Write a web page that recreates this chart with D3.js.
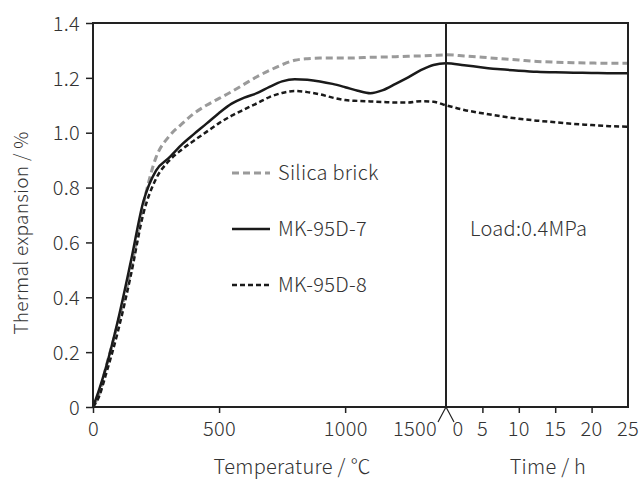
<!DOCTYPE html>
<html>
<head>
<meta charset="utf-8">
<script src="https://cdn.jsdelivr.net/npm/d3@7"></script>
<style>
  body { margin: 0; background: #fff; }
  text { font-family: "Noto Sans CJK JP", "Noto Sans", sans-serif; font-weight: 300; fill: #333; letter-spacing: 0.3px; }
</style>
</head>
<body>
<div id="chart"></div>
<script>
// heating stage (temperature, degC)
const tempC = [0, 25, 50, 100, 150, 200, 250, 300, 350, 400, 450, 500, 550, 600, 650, 700,
  750, 800, 850, 900, 950, 1000, 1050, 1100, 1150, 1200, 1250, 1300, 1350, 1400];
const silicaT = [0, 0.05, 0.14, 0.31, 0.50, 0.74, 0.91, 0.985, 1.03, 1.07, 1.10, 1.125, 1.15, 1.177, 1.204, 1.227,
  1.248, 1.264, 1.270, 1.272, 1.272, 1.272, 1.273, 1.275, 1.276, 1.277, 1.279, 1.280, 1.282, 1.284];
const mk7T = [0, 0.065, 0.14, 0.32, 0.53, 0.75, 0.862, 0.907, 0.955, 0.995, 1.033, 1.072, 1.106, 1.128, 1.144, 1.167,
  1.187, 1.195, 1.193, 1.187, 1.178, 1.166, 1.153, 1.144, 1.155, 1.178, 1.202, 1.228, 1.247, 1.253];
const mk8T = [0, 0.04, 0.115, 0.28, 0.48, 0.706, 0.832, 0.896, 0.937, 0.971, 1.003, 1.035, 1.062, 1.085, 1.107, 1.130,
  1.145, 1.152, 1.148, 1.140, 1.128, 1.119, 1.116, 1.114, 1.112, 1.110, 1.110, 1.115, 1.113, 1.100];

// holding stage under load (time, h)
const timeH = [0, 2.5, 5, 7.5, 10, 12.5, 15, 17.5, 20, 22.5, 25];
const silicaH = [1.285, 1.280, 1.275, 1.270, 1.265, 1.260, 1.257, 1.255, 1.254, 1.253, 1.253];
const mk7H = [1.253, 1.246, 1.238, 1.231, 1.226, 1.222, 1.220, 1.219, 1.218, 1.217, 1.217];
const mk8H = [1.098, 1.083, 1.071, 1.060, 1.051, 1.044, 1.038, 1.032, 1.028, 1.024, 1.022];

const yTicks = [0, 0.2, 0.4, 0.6, 0.8, 1.0, 1.2, 1.4];
const tempTicks = [0, 500, 1000];
const timeTicks = [5, 10, 15, 20];
const timeLabels = [0, 5, 10, 15, 20, 25];

const series = [
  { name: 'Silica brick', t: silicaT, h: silicaH, color: '#9a9a9a', dash: '7,4', width: 3 },
  { name: 'MK-95D-7', t: mk7T, h: mk7H, color: '#1a1a1a', dash: null, width: 2.5 },
  { name: 'MK-95D-8', t: mk8T, h: mk8H, color: '#1a1a1a', dash: '5,3', width: 2.5 }
];

const W = 641, H = 481;
const pLeft = 93, pRight = 628, pTop = 23, pBottom = 407, split = 446;

const svg = d3.select('#chart').append('svg')
  .attr('width', W).attr('height', H);

const y = d3.scaleLinear().domain([0, 1.4]).range([pBottom, pTop]);
const xT = d3.scaleLinear().domain([0, 1400]).range([pLeft, split]);
const xH = d3.scaleLinear().domain([0, 25]).range([split, pRight]);

// curves
const line = d3.line().x(d => d[0]).y(d => d[1]).curve(d3.curveMonotoneX);
series.forEach(s => {
  const pts = tempC.map((c, i) => [xT(c), y(s.t[i])])
    .concat(timeH.map((t, i) => [xH(t), y(s.h[i])]).slice(1));
  svg.append('path')
    .attr('d', line(pts))
    .attr('fill', 'none')
    .attr('stroke', s.color)
    .attr('stroke-width', s.width)
    .attr('stroke-dasharray', s.dash);
});

// frame
const ax = '#222';
svg.append('rect')
  .attr('x', pLeft).attr('y', pTop)
  .attr('width', pRight - pLeft).attr('height', pBottom - pTop)
  .attr('fill', 'none').attr('stroke', ax).attr('stroke-width', 2);
svg.append('line')
  .attr('x1', split).attr('x2', split).attr('y1', pTop).attr('y2', pBottom)
  .attr('stroke', ax).attr('stroke-width', 2);

// y axis
const yAxis = d3.axisLeft(y).tickValues(yTicks).tickSize(7)
  .tickFormat(d => d === 0 ? '0' : d3.format('.1f')(d));
const gy = svg.append('g').attr('transform', `translate(${pLeft},0)`).call(yAxis);
gy.select('.domain').remove();
gy.selectAll('line').attr('stroke', ax).attr('stroke-width', 1.5);
gy.selectAll('text').attr('font-size', 20).attr('x', -13).attr('dy', '0.36em');

// temperature axis
const xAxisT = d3.axisBottom(xT).tickValues(tempTicks).tickSize(6).tickFormat(d3.format('d'));
const gt = svg.append('g').attr('transform', `translate(0,${pBottom})`).call(xAxisT);
gt.select('.domain').remove();
gt.selectAll('line').attr('stroke', ax).attr('stroke-width', 1.5);
gt.selectAll('text').attr('font-size', 20).attr('y', 15).attr('dy', '0.71em');
gt.append('text').attr('x', xT(1400) - 31).attr('y', 15).attr('dy', '0.71em')
  .attr('text-anchor', 'middle').attr('font-size', 20).attr('fill', '#333').text('1500');

// time axis
const xAxisH = d3.axisBottom(xH).tickValues(timeTicks).tickSize(6).tickFormat('');
const gh = svg.append('g').attr('transform', `translate(0,${pBottom})`).call(xAxisH);
gh.select('.domain').remove();
gh.selectAll('line').attr('stroke', ax).attr('stroke-width', 1.5);
gh.selectAll('.lbl').data(timeLabels).enter().append('text')
  .attr('x', d => d === 0 ? xH(d) + 12 : xH(d)).attr('y', 15).attr('dy', '0.71em')
  .attr('text-anchor', 'middle').attr('font-size', 20).attr('fill', '#333')
  .text(d => d);

// break mark
svg.append('path')
  .attr('d', `M${split - 8},${pBottom + 15}L${split},${pBottom}L${split + 8},${pBottom + 15}`)
  .attr('fill', 'none').attr('stroke', ax).attr('stroke-width', 1.2);

// axis titles
svg.append('text').attr('x', xT(790)).attr('y', 474).attr('text-anchor', 'middle')
  .attr('font-size', 20).text('Temperature / ℃');
svg.append('text').attr('x', xH(14)).attr('y', 474).attr('text-anchor', 'middle')
  .attr('font-size', 20).text('Time / h');
svg.append('text').attr('transform', `translate(28,${(pTop + pBottom) / 2 + 18}) rotate(-90)`)
  .attr('text-anchor', 'middle').attr('font-size', 19).text('Thermal expansion / %');

// legend
series.forEach((s, i) => {
  const ly = 173 + i * 56;
  svg.append('line').attr('x1', 232).attr('x2', 270).attr('y1', ly).attr('y2', ly)
    .attr('stroke', s.color).attr('stroke-width', s.width).attr('stroke-dasharray', s.dash);
  svg.append('text').attr('x', 278).attr('y', ly).attr('dy', '0.36em')
    .attr('font-size', 20).text(s.name);
});

svg.append('text').attr('x', 470).attr('y', 229).attr('dy', '0.36em')
  .attr('font-size', 20).text('Load:0.4MPa');
</script>
</body>
</html>
